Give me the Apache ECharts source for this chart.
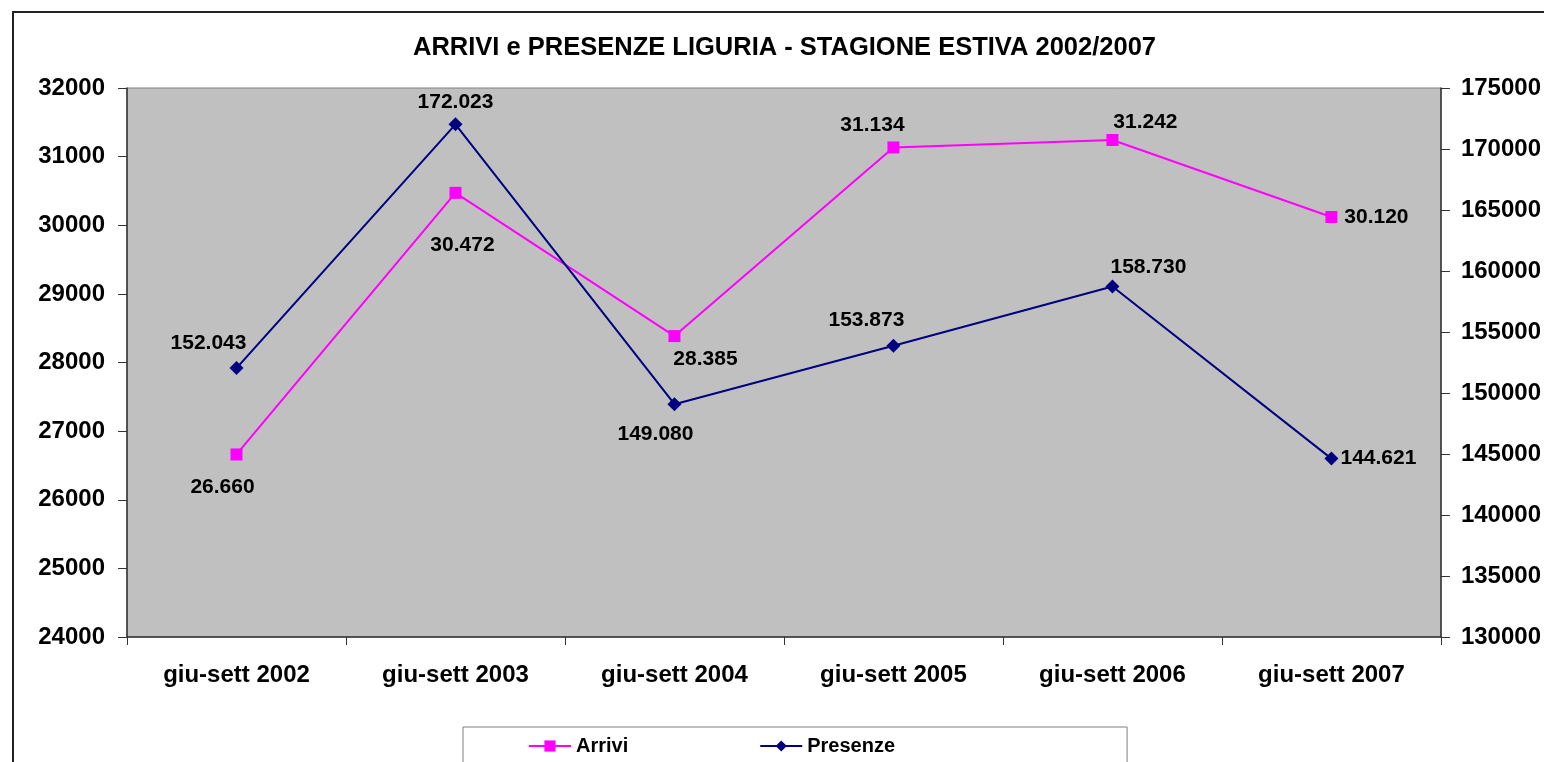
<!DOCTYPE html>
<html>
<head>
<meta charset="utf-8">
<title>Arrivi e Presenze Liguria</title>
<script src="https://cdn.jsdelivr.net/npm/echarts@6/dist/echarts.min.js"></script>
<style>
	html, body { margin:0; padding:0; background:#fff; }
	#main { width:1544px; height:762px; }
</style>
</head>
<body>
<div id="main"></div>
<script>
	/*dati*/
	var categorie = ['giu-sett 2002', 'giu-sett 2003', 'giu-sett 2004', 'giu-sett 2005', 'giu-sett 2006', 'giu-sett 2007'];
	var arrivi = [26660, 30472, 28385, 31134, 31242, 30120];
	var presenze = [152043, 172023, 149080, 153873, 158730, 144621];

	/*posizione etichette (dx, dy dal punto)*/
	var offArrivi = [[-14, 33], [7, 52], [31, 23], [-21, -22], [33, -18], [45, 0]];
	var offPresenze = [[-28, -25], [0, -22], [-19, 30], [-27, -26], [36, -19], [47, 0]];

	var font = "'Liberation Sans', Arial, sans-serif";

	function fmt(v){
		return String(v).replace(/\B(?=(\d{3})+(?!\d))/g, '.');
	}

	function buildData(vals, offs){
		var arr = [];
		for(var i=0;i<vals.length;i++){
			arr.push({ value: vals[i], label: { offset: offs[i] } });
		}
		return arr;
	}

	var myChart = echarts.init(document.getElementById('main'), null, { renderer: 'canvas' });

	var labelStyle = {
		show: true,
		position: 'inside',
		color: '#000',
		fontFamily: font,
		fontWeight: 'bold',
		fontSize: 21,
		formatter: function(p){ return fmt(p.value); }
	};

	var option = {
		backgroundColor: '#fff',
		animation: false,
		title: {
			text: 'ARRIVI e PRESENZE LIGURIA - STAGIONE ESTIVA 2002/2007',
			left: 413,
			top: 35,
			padding: 0,
			textStyle: { fontFamily: font, fontWeight: 'bold', fontSize: 25.5, color: '#000' }
		},
		graphic: [{
			type: 'rect',
			shape: { x: 13, y: 12, width: 1600, height: 800 },
			style: { fill: 'none', stroke: '#222', lineWidth: 2 },
			silent: true,
			z: -1
		}],
		legend: {
			left: 463,
			top: 727,
			data: ['Arrivi', 'Presenze'],
			borderColor: '#808080',
			borderWidth: 1,
			backgroundColor: '#fff',
			padding: [9, 232, 12, 65],
			itemGap: 131,
			itemWidth: 42,
			itemHeight: 14,
			textStyle: { fontFamily: font, fontWeight: 'bold', fontSize: 20, color: '#000' }
		},
		grid: {
			left: 127,
			right: 101,
			top: 88,
			bottom: 125,
			show: true,
			backgroundColor: '#c0c0c0',
			borderColor: '#808080',
			borderWidth: 1
		},
		xAxis: {
			type: 'category',
			data: categorie,
			boundaryGap: true,
			axisLine: { lineStyle: { color: '#333', width: 1.5 } },
			axisTick: { show: true, length: 8, lineStyle: { color: '#333' } },
			axisLabel: { margin: 26, color: '#000', fontFamily: font, fontWeight: 'bold', fontSize: 24 },
			splitLine: { show: false }
		},
		yAxis: [{
			type: 'value',
			min: 24000,
			max: 32000,
			interval: 1000,
			axisLine: { show: true, lineStyle: { color: '#333', width: 1.5 } },
			axisTick: { show: true, length: 9, lineStyle: { color: '#333' } },
			axisLabel: { margin: 22, color: '#000', fontFamily: font, fontWeight: 'bold', fontSize: 24,
				formatter: function(v){ return String(v); } },
			splitLine: { show: false }
		}, {
			type: 'value',
			min: 130000,
			max: 175000,
			interval: 5000,
			position: 'right',
			axisLine: { show: true, lineStyle: { color: '#333', width: 1.5 } },
			axisTick: { show: true, length: 9, lineStyle: { color: '#333' } },
			axisLabel: { margin: 20, color: '#000', fontFamily: font, fontWeight: 'bold', fontSize: 24,
				formatter: function(v){ return String(v); } },
			splitLine: { show: false }
		}],
		series: [{
			name: 'Arrivi',
			type: 'line',
			yAxisIndex: 0,
			data: buildData(arrivi, offArrivi),
			symbol: 'rect',
			symbolSize: 12,
			color: '#ff00ff',
			lineStyle: { color: '#ff00ff', width: 2 },
			itemStyle: { color: '#ff00ff' },
			label: labelStyle,
			z: 3
		}, {
			name: 'Presenze',
			type: 'line',
			yAxisIndex: 1,
			data: buildData(presenze, offPresenze),
			symbol: 'diamond',
			symbolSize: 14,
			color: '#000080',
			lineStyle: { color: '#000080', width: 2 },
			itemStyle: { color: '#000080' },
			label: labelStyle,
			z: 4
		}]
	};
	myChart.setOption(option);
</script>
</body>
</html>
